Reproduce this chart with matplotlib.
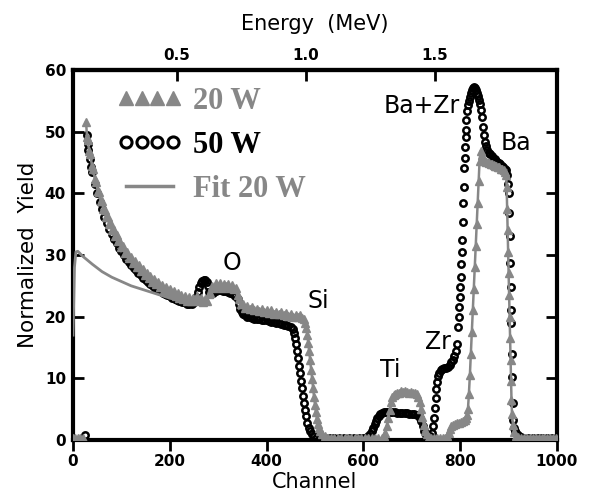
import numpy as np
import matplotlib
matplotlib.use("Agg")
import matplotlib.pyplot as plt
from matplotlib.lines import Line2D

# RBS spectra, 20 W and 50 W films, plus fit of the 20 W substrate part
ch_50w = [25, 28, 30, 32, 35, 38, 40, 45, 50, 55, 60, 65, 70, 75, 80, 85, 90, 95,
          100, 105, 110, 115, 120, 125, 130, 135, 140, 145, 150, 155, 160, 165, 170,
          175, 180, 185, 190, 195, 200, 205, 210, 215, 220, 225, 230, 235, 240, 245,
          250, 255, 258, 261, 264, 267, 270, 273, 276, 279, 282, 285, 290, 295, 300,
          305, 310, 315, 320, 325, 330, 335, 340, 343, 346, 349, 352, 355, 360, 365,
          370, 375, 380, 385, 390, 395, 400, 405, 410, 415, 420, 425, 430, 435, 440,
          445, 450, 454, 457, 459, 461, 463, 465, 467, 469, 471, 473, 475, 477, 479,
          481, 484, 487, 490, 494, 498, 503, 510, 520, 530, 540, 550, 560, 570, 580,
          590, 600, 606, 610, 614, 617, 620, 623, 626, 629, 632, 635, 638, 642, 646,
          650, 655, 660, 665, 670, 675, 680, 685, 690, 695, 700, 705, 710, 714, 717,
          720, 723, 726, 729, 732, 735, 738, 741, 743, 745, 747, 749, 751, 753, 755,
          757, 760, 763, 766, 770, 774, 778, 782, 785, 788, 791, 794, 796, 797, 798,
          799, 800, 801, 802, 803, 804, 805, 806, 807, 808, 809, 810, 811, 812, 813,
          815, 817, 819, 821, 823, 825, 827, 829, 831, 833, 835, 837, 839, 841, 843,
          845, 847, 849, 851, 853, 856, 859, 862, 865, 868, 871, 874, 877, 880, 883,
          886, 889, 892, 895, 897, 899, 900, 901, 902, 903, 904, 905, 906, 907, 908,
          909, 910, 911, 913, 916, 920, 925, 930, 940, 950, 960, 970, 980, 990, 1000]
y_50w = [0.8, 49.5, 48.0, 47.0, 45.5, 44.3, 43.5, 41.5, 40.0, 38.6, 37.4, 36.2, 35.2,
         34.2, 33.4, 32.6, 31.9, 31.2, 30.6, 30.0, 29.4, 28.9, 28.4, 27.9, 27.5, 27.1,
         26.7, 26.3, 25.9, 25.6, 25.3, 25.0, 24.7, 24.4, 24.2, 23.9, 23.7, 23.5, 23.3,
         23.1, 22.9, 22.7, 22.6, 22.4, 22.3, 22.1, 22.0, 22.1, 22.4, 23.2, 24.0, 24.8,
         25.4, 25.8, 26.0, 25.9, 25.6, 25.0, 24.0, 23.6, 23.8, 24.2, 24.4, 24.3, 24.2,
         24.2, 24.0, 23.9, 23.7, 23.4, 22.8, 22.0, 21.2, 20.7, 20.4, 20.2, 20.0, 19.9,
         19.8, 19.7, 19.7, 19.6, 19.5, 19.5, 19.4, 19.3, 19.2, 19.1, 19.0, 18.9, 18.8,
         18.7, 18.6, 18.5, 18.3, 18.0, 17.4, 16.6, 15.6, 14.5, 13.3, 12.0, 10.8, 9.6,
         8.4, 7.2, 6.0, 4.9, 3.9, 2.8, 2.0, 1.4, 0.9, 0.6, 0.4, 0.3, 0.3, 0.3, 0.3, 0.3,
         0.3, 0.3, 0.3, 0.3, 0.3, 0.4, 0.6, 1.0, 1.5, 2.0, 2.6, 3.1, 3.5, 3.9, 4.2, 4.4,
         4.5, 4.6, 4.6, 4.6, 4.5, 4.5, 4.4, 4.4, 4.3, 4.3, 4.3, 4.2, 4.2, 4.2, 4.1, 4.0,
         3.6, 3.0, 2.2, 1.4, 0.8, 0.5, 0.4, 0.6, 1.2, 2.2, 3.6, 5.2, 6.8, 8.2, 9.4, 10.3,
         10.9, 11.3, 11.5, 11.6, 11.7, 11.9, 12.2, 12.6, 13.0, 13.6, 14.5, 15.6, 18.3,
         20.0, 21.6, 23.2, 24.8, 26.4, 28.5, 30.5, 32.4, 35.3, 38.4, 41.0, 44.1, 45.7,
         47.5, 49.1, 50.3, 51.9, 53.4, 54.3, 55.0, 55.6, 56.2, 56.7, 57.1, 57.2, 57.0,
         56.8, 56.3, 55.8, 55.2, 54.5, 53.5, 52.3, 50.8, 49.5, 48.4, 47.6, 47.0, 46.6,
         46.3, 46.0, 45.8, 45.6, 45.3, 45.1, 44.9, 44.7, 44.5, 44.3, 44.0, 43.7, 43.0,
         41.5, 40.0, 36.8, 33.0, 28.7, 24.8, 21.0, 19.0, 14.0, 10.2, 6.0, 3.2, 2.0, 1.5,
         1.2, 0.8, 0.5, 0.3, 0.3, 0.3, 0.3, 0.3, 0.3, 0.3, 0.3]

ch_20w = [0, 5, 10, 15, 20, 23, 27, 29, 31, 33, 36, 39, 42, 45, 48, 51, 54, 57, 60, 63,
          66, 69, 72, 75, 78, 81, 84, 87, 90, 93, 96, 100, 104, 108, 112, 116, 120, 124,
          128, 132, 136, 140, 144, 148, 152, 156, 160, 164, 168, 172, 176, 180, 184,
          188, 192, 196, 200, 204, 208, 212, 216, 220, 224, 228, 232, 236, 240, 244,
          248, 252, 256, 260, 264, 268, 272, 276, 280, 284, 288, 292, 296, 300, 304,
          308, 312, 316, 320, 324, 328, 332, 336, 340, 344, 348, 352, 356, 360, 365,
          370, 375, 380, 385, 390, 395, 400, 405, 410, 415, 420, 425, 430, 435, 440,
          445, 450, 455, 460, 465, 470, 474, 477, 480, 482, 484, 486, 488, 490, 492,
          494, 496, 498, 500, 502, 504, 506, 508, 511, 515, 520, 526, 533, 540, 547,
          554, 561, 568, 575, 582, 589, 596, 603, 610, 617, 624, 631, 638, 642, 645,
          648, 651, 654, 657, 660, 663, 666, 670, 674, 678, 682, 686, 690, 694, 698,
          702, 706, 710, 713, 716, 719, 722, 725, 728, 731, 735, 740, 746, 752, 758,
          764, 769, 773, 776, 779, 782, 785, 789, 793, 797, 801, 805, 809, 812, 814,
          816, 818, 820, 822, 824, 826, 828, 830, 832, 834, 836, 838, 840, 842, 845,
          848, 851, 854, 857, 860, 863, 866, 869, 872, 875, 878, 881, 884, 887, 890,
          893, 895, 896, 897, 898, 899, 900, 901, 902, 903, 904, 905, 906, 907, 909,
          912, 916, 920, 926, 932, 938, 944, 950, 956, 962, 968, 974, 980, 986, 992, 998]
y_20w = [0.3, 0.3, 0.3, 0.3, 0.3, np.nan, 51.5, 49.2, 48.6, 46.9, 46.3, 44.5, 43.9,
         42.3, 41.9, 40.4, 40.2, 38.8, 38.7, 37.4, 37.3, 36.1, 36.2, 35.0, 35.1, 34.0,
         34.1, 33.1, 33.3, 32.2, 32.4, 31.3, 31.4, 30.3, 30.5, 29.5, 29.7, 28.7, 29.0,
         28.0, 28.3, 27.4, 27.7, 26.8, 27.1, 26.2, 26.6, 25.7, 26.1, 25.3, 25.6, 24.8,
         25.2, 24.4, 24.8, 24.0, 24.5, 23.7, 24.1, 23.4, 23.8, 23.1, 23.5, 22.8, 23.3,
         22.6, 23.2, 22.5, 23.1, 22.6, 23.4, 22.7, 23.1, 22.3, 22.9, 22.6, 23.6, 23.8,
         24.9, 24.7, 25.5, 25.0, 25.4, 24.7, 25.3, 24.9, 25.3, 24.6, 25.2, 24.5, 24.6,
         23.5, 22.9, 22.0, 22.0, 21.4, 21.7, 21.2, 21.5, 21.0, 21.3, 20.9, 21.2, 20.7,
         21.1, 20.6, 21.0, 20.5, 20.8, 20.4, 20.7, 20.3, 20.6, 20.1, 20.5, 20.0, 20.3,
         19.9, 20.2, 19.8, 19.6, 19.0, 18.2, 17.1, 15.8, 14.4, 12.9, 11.4, 9.9, 8.4, 7.0,
         5.7, 4.5, 3.4, 2.6, 2.0, 1.4, 0.9, 0.6, 0.4, 0.3, 0.3, 0.3, 0.3, 0.3, 0.3, 0.3,
         0.3, 0.3, 0.3, 0.3, 0.3, 0.3, 0.3, 0.3, 0.3, 0.6, 1.2, 2.2, 3.5, 4.9, 6.1, 6.9,
         7.3, 7.5, 7.6, 7.7, 7.9, 7.8, 7.9, 7.8, 7.7, 7.8, 7.7, 7.6, 7.4, 7.0, 6.2, 5.0,
         3.7, 2.5, 1.5, 0.9, 0.5, 0.3, 0.3, 0.3, 0.3, 0.3, 0.4, 0.7, 1.2, 1.8, 2.2, 2.5,
         2.6, 2.7, 2.8, 2.9, 3.0, 3.2, 3.5, 4.0, 5.0, 7.5, 10.5, 14.0, 17.5, 21.0, 24.5,
         28.0, 31.5, 35.0, 38.5, 42.0, 45.2, 46.8, 46.2, 45.6, 45.3, 45.1, 45.0, 44.9,
         44.8, 44.8, 44.6, 44.5, 44.4, 44.3, 44.2, 44.0, 43.9, 43.7, 43.5, 43.0, 41.0,
         37.5, 34.0, 30.5, 27.0, 23.5, 20.0, 16.5, 13.0, 9.5, 6.5, 4.2, 2.5, 1.3, 0.7,
         0.5, 0.4, 0.3, 0.3, 0.3, 0.3, 0.3, 0.3, 0.3, 0.3, 0.3, 0.3, 0.3, 0.3]

ch_fit = [0, 3, 6, 10, 20, 40, 60, 80, 100, 120, 140, 160, 180, 200, 220, 240]
y_fit = [17.0, 28.0, 30.5, 30.6, 29.8, 28.5, 27.3, 26.4, 25.7, 25.0, 24.5, 24.0,
         23.5, 23.0, 22.6, 22.2]

peak_names = ["O", "Si", "Ti", "Zr", "Ba+Zr", "Ba"]
peak_ch = [328, 506, 655, 754, 721, 915]
peak_y = [28.7, 22.5, 11.3, 15.9, 54.2, 48.2]

energy_ticks = [0.5, 1.0, 1.5]

GRAY = "#878787"


def ch2e(c):
    return 0.0967 + 0.001876 * np.asarray(c, dtype=float)


def e2ch(e):
    return (np.asarray(e, dtype=float) - 0.0967) / 0.001876


fig = plt.figure(figsize=(5.94, 4.97), dpi=100)
ax = fig.add_axes([0.1229, 0.1147, 0.8148, 0.7445])

ax.plot(ch_50w, y_50w, linestyle="none", marker="o", ms=4.6, mfc="none",
        mec="black", mew=1.8, zorder=2)
ax.plot(ch_20w, y_20w, color=GRAY, lw=1.8, marker="^", ms=6, mec=GRAY, mfc=GRAY,
        zorder=3)
ax.plot(ch_fit, y_fit, color=GRAY, lw=2, zorder=4)

for name, c, y in zip(peak_names, peak_ch, peak_y):
    ax.text(c, y, name, fontsize=17, family="DejaVu Sans", ha="center", va="center")

ax.set_xlim(0, 1000)
ax.set_ylim(0, 60)
ax.set_xticks([0, 200, 400, 600, 800, 1000])
ax.set_yticks([0, 10, 20, 30, 40, 50, 60])
ax.tick_params(axis="x", direction="out", length=8, width=2, pad=2, labelsize=11,
               top=False)
ax.tick_params(axis="y", direction="in", length=8, width=2, pad=5, labelsize=11,
               right=True)
for lab in ax.get_xticklabels() + ax.get_yticklabels():
    lab.set_fontweight("bold")
for sp in ax.spines.values():
    sp.set_linewidth(3)

ax.set_xlabel("Channel", fontsize=15, labelpad=2)
ax.set_ylabel("Normalized  Yield", fontsize=15.5, labelpad=5)

secax = ax.secondary_xaxis("top", functions=(ch2e, e2ch))
secax.set_xticks(energy_ticks)
secax.set_xticklabels(["0.5", "1.0", "1.5"], fontweight="bold", fontsize=11)
secax.tick_params(direction="in", length=8, width=2, pad=5)
secax.spines["top"].set_linewidth(3)
secax.set_xlabel("Energy  (MeV)", fontsize=15, labelpad=13)

handles = [
    Line2D([], [], linestyle="none", marker="^", ms=9.5, color=GRAY),
    Line2D([], [], linestyle="none", marker="o", ms=8, mfc="white", mec="black",
           mew=2.2),
    Line2D([], [], color=GRAY, lw=2.5),
]
leg = ax.legend(handles, ["20 W", "50 W", "Fit 20 W"], loc="upper left",
                bbox_to_anchor=(0.09, 0.955), frameon=False, numpoints=4,
                handlelength=2.15, handletextpad=0.35, labelspacing=0.5,
                borderpad=0, borderaxespad=0,
                prop={"family": "Liberation Serif", "weight": "bold", "size": 22})
for txt, col in zip(leg.get_texts(), [GRAY, "black", GRAY]):
    txt.set_color(col)

fig.savefig("out.png", dpi=100)
